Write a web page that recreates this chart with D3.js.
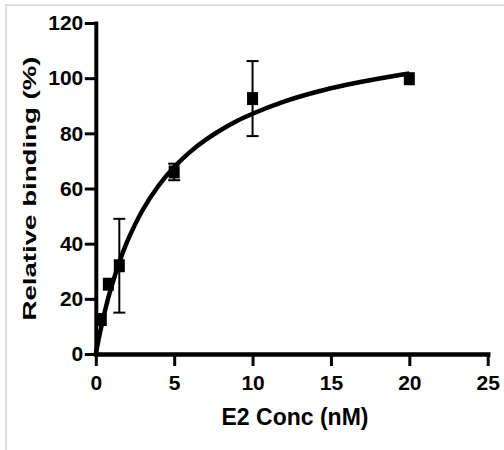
<!DOCTYPE html>
<html>
<head>
<meta charset="utf-8">
<script src="https://cdn.jsdelivr.net/npm/d3@7"></script>
<style>
  body { margin: 0; background: #fff; }
  svg { display: block; }
</style>
</head>
<body>
<svg id="chart" width="504" height="450"></svg>
<script>
// measured points (E2 conc in nM, relative binding in %)
const concs = [0.35, 0.8, 1.5, 5, 10, 20];
const binding = [12.5, 25.3, 32, 66, 92.6, 99.8];
const errors = [0, 0, 17, 3, 13.6, 0];

// fitted curve
const curveX = [0, 0.25, 0.5, 0.75, 1, 1.5, 2, 2.5, 3, 4, 5, 6, 7, 8, 9, 10, 12, 14, 16, 18, 20];
const curveY = [0, 7.2, 13.6, 19.4, 24.4, 33.3, 40.7, 46.9, 52.3, 61, 67.8, 73.2, 77.6, 81.3, 84.5, 87.1, 91.5, 94.9, 97.6, 99.8, 101.7];

const xTicks = [0, 5, 10, 15, 20, 25];
const yTicks = [0, 20, 40, 60, 80, 100, 120];

const svg = d3.select("#chart");
const width = 504, height = 450;
const margin = { top: 23, right: 16.3, bottom: 96, left: 95.8 };

svg.append("rect").attr("width", width).attr("height", height).attr("fill", "#fff");

// grey frame on top and left (screenshot edge)
svg.append("path")
  .attr("d", `M6,${height} V5 H${width}`)
  .attr("fill", "none")
  .attr("stroke", "#dcdcdc")
  .attr("stroke-width", 2);

const x = d3.scaleLinear().domain([0, 25]).range([margin.left, width - margin.right]);
const y = d3.scaleLinear().domain([0, 120]).range([height - margin.bottom, margin.top]);

const tickFont = "'Liberation Sans Narrow', 'Liberation Sans', Arial, sans-serif";

const xAxis = svg.append("g")
  .attr("transform", `translate(0,${y(0)})`)
  .call(d3.axisBottom(x).tickValues(xTicks).tickSize(12).tickPadding(9).tickSizeOuter(0));

const yAxis = svg.append("g")
  .attr("transform", `translate(${x(0)},0)`)
  .call(d3.axisLeft(y).tickValues(yTicks).tickSize(11).tickPadding(1.5).tickSizeOuter(0));

[xAxis, yAxis].forEach(g => {
  g.selectAll(".tick line").attr("stroke", "#000").attr("stroke-width", 3);
  g.selectAll(".tick text")
    .attr("fill", "#000")
    .style("font-family", tickFont)
    .style("font-weight", "bold")
    .style("font-size", "21px");
});
xAxis.select(".domain").attr("stroke", "#000").attr("stroke-width", 4.5).attr("stroke-linecap", "square");
yAxis.select(".domain").attr("stroke", "#000").attr("stroke-width", 4).attr("stroke-linecap", "square");

// fitted curve
const line = d3.line()
  .x(d => x(d[0]))
  .y(d => y(d[1]))
  .curve(d3.curveMonotoneX);

svg.append("path")
  .datum(d3.zip(curveX, curveY))
  .attr("d", line)
  .attr("fill", "none")
  .attr("stroke", "#000")
  .attr("stroke-width", 4.5)
  .attr("stroke-linejoin", "round");

const points = concs.map((c, i) => ({ c, v: binding[i], e: errors[i] }));

// error bars
const bars = svg.append("g")
  .attr("stroke", "#000")
  .attr("stroke-width", 2)
  .selectAll("g")
  .data(points.filter(d => d.e > 0))
  .join("g");

bars.append("line")
  .attr("x1", d => x(d.c)).attr("x2", d => x(d.c))
  .attr("y1", d => y(d.v - d.e)).attr("y2", d => y(d.v + d.e));

bars.selectAll(".cap")
  .data(d => [d.v - d.e, d.v + d.e].map(v => ({ c: d.c, v })))
  .join("line")
  .attr("class", "cap")
  .attr("x1", d => x(d.c) - 6).attr("x2", d => x(d.c) + 6)
  .attr("y1", d => y(d.v)).attr("y2", d => y(d.v));

// square markers
svg.append("g")
  .selectAll("rect")
  .data(points)
  .join("rect")
  .attr("x", d => x(d.c) - 5.5)
  .attr("y", d => y(d.v) - 6.5)
  .attr("width", 11)
  .attr("height", 13)
  .attr("fill", "#000");

// axis titles
svg.append("text")
  .attr("x", 295)
  .attr("y", 425)
  .attr("text-anchor", "middle")
  .style("font-family", "'Liberation Sans', Arial, sans-serif")
  .style("font-weight", "bold")
  .style("font-size", "23px")
  .text("E2 Conc (nM)");

svg.append("text")
  .attr("transform", `translate(35.5,${(y(0) + y(120)) / 2}) rotate(-90)`)
  .attr("text-anchor", "middle")
  .attr("textLength", 264)
  .attr("lengthAdjust", "spacingAndGlyphs")
  .style("font-family", "'Liberation Sans', Arial, sans-serif")
  .style("font-weight", "bold")
  .style("font-size", "18.5px")
  .text("Relative binding (%)");
</script>
</body>
</html>
